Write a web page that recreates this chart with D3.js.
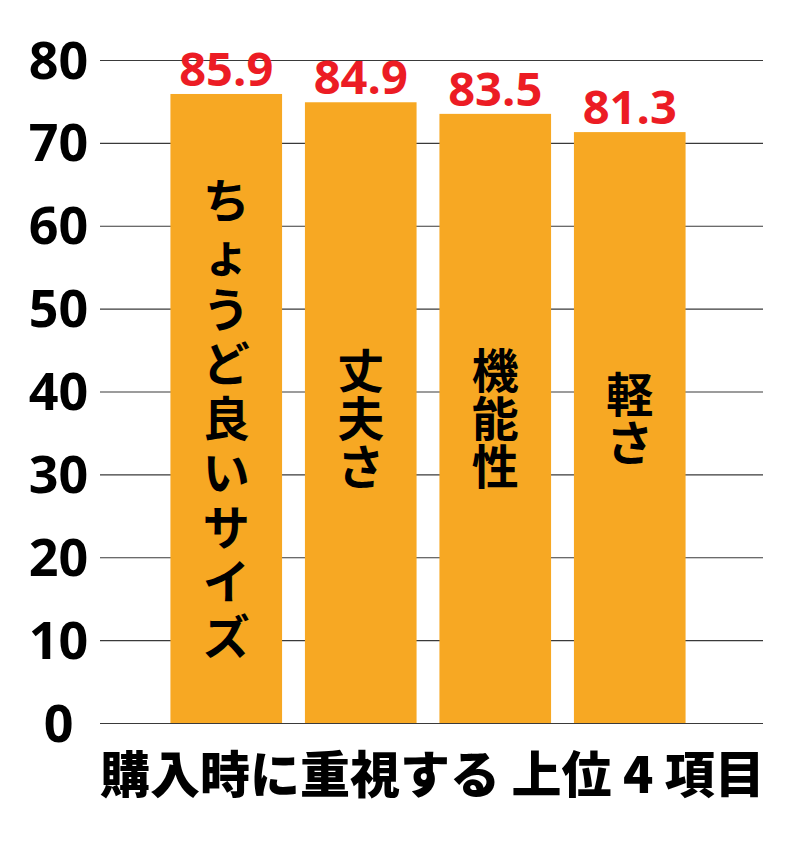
<!DOCTYPE html>
<html>
<head>
<meta charset="utf-8">
<script src="https://cdn.jsdelivr.net/npm/d3@7"></script>
<style>
  body { margin: 0; background: #fff; }
  svg { display: block; }
</style>
</head>
<body>
<div id="chart"></div>
<script>
// top 4 things people look at when buying
var categories = ["ちょうど良いサイズ", "丈夫さ", "機能性", "軽さ"]
var values = [85.9, 84.9, 83.5, 81.3]
var tickValues = [10, 20, 30, 40, 50, 60, 70, 80, 90]
var tickLabels = ["0", "10", "20", "30", "40", "50", "60", "70", "80"]
var title = "購入時に重視する 上位 4 項目"

var W = 800, H = 850
var plotLeft = 100, plotRight = 763, plotTop = 60, plotBottom = 723

var svg = d3.select("#chart").append("svg")
  .attr("width", W).attr("height", H)

// the printed axis is offset: the "0" line sits at 10 on the value scale
var y = d3.scaleLinear().domain([10, 90]).range([plotBottom, plotTop])
var x = d3.scaleBand().domain(categories)
  .range([159, 697]).paddingInner(0.17).paddingOuter(0.085)

var axis = svg.append("g")
  .attr("transform", "translate(" + plotLeft + ",0)")
  .call(d3.axisLeft(y).tickValues(tickValues)
    .tickFormat(function(d, i) { return tickLabels[i] })
    .tickSizeInner(-(plotRight - plotLeft)).tickSizeOuter(0))
axis.select(".domain").remove()
axis.selectAll(".tick line")
  .attr("stroke", "#3a3a3a").attr("stroke-width", 1.2)
axis.selectAll(".tick text")
  .attr("x", 58.5 - plotLeft).attr("dy", null).attr("y", 18)
  .attr("text-anchor", "middle").attr("fill", "#000")
  .style("font-family", "'Open Sans', 'Noto Sans', sans-serif")
  .style("font-weight", 700).style("font-size", "52px")

svg.selectAll(".bar").data(categories).enter().append("rect")
  .attr("class", "bar")
  .attr("x", function(d) { return x(d) })
  .attr("width", x.bandwidth())
  .attr("y", function(d, i) { return y(values[i]) })
  .attr("height", function(d, i) { return plotBottom - y(values[i]) })
  .attr("fill", "#f7a823")

svg.selectAll(".val").data(categories).enter().append("text")
  .attr("class", "val")
  .attr("x", function(d) { return x(d) + x.bandwidth() / 2 })
  .attr("y", function(d, i) { return y(values[i]) - 8 })
  .attr("text-anchor", "middle")
  .attr("fill", "#ec1c24")
  .style("font-family", "'Open Sans', 'Noto Sans', sans-serif")
  .style("font-weight", 700).style("font-size", "47px")
  .text(function(d, i) { return values[i].toFixed(1) })

// vertical labels inside the bars, one glyph per line, centred on y=415
var midY = 415
categories.forEach(function(c) {
  var chars = Array.from(c)
  var pitch = chars.length > 4 ? 54.5 : 48
  var h = (chars.length - 1) * pitch
  var g = svg.append("g")
  g.selectAll("text").data(chars).enter().append("text")
    .attr("x", x(c) + x.bandwidth() / 2)
    .attr("y", function(d, i) { return midY - h / 2 + i * pitch })
    .attr("text-anchor", "middle")
    .attr("dominant-baseline", "central")
    .style("font-family", "'Noto Sans CJK JP', sans-serif")
    .style("font-weight", 700).style("font-size", "47px")
    .attr("fill", "#000")
    .text(function(d) { return d })
})

svg.append("text")
  .attr("x", plotLeft).attr("y", 793)
  .style("font-family", "'Noto Sans CJK JP', sans-serif")
  .style("font-weight", 900).style("font-size", "50px")
  .attr("fill", "#000")
  .text(title)
</script>
</body>
</html>
